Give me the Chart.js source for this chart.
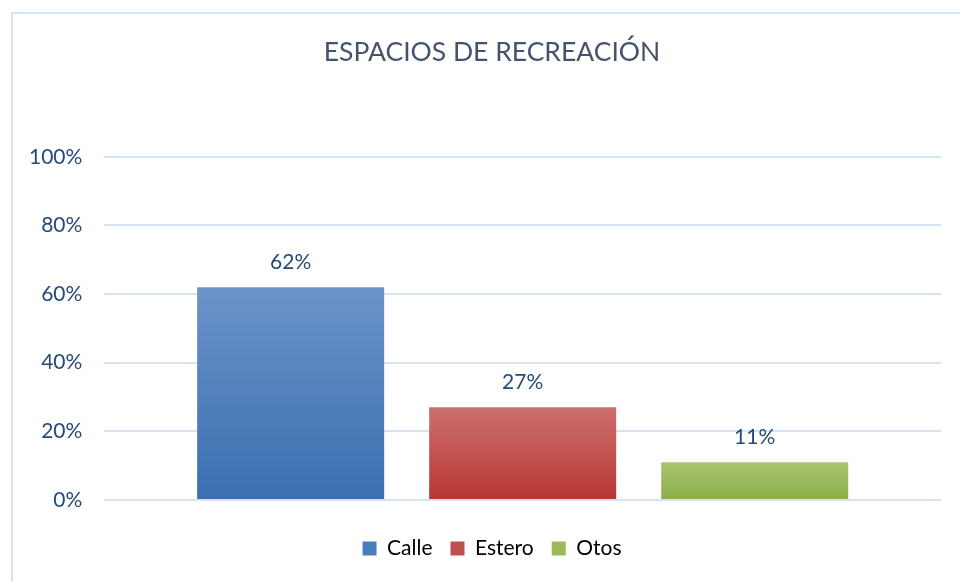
<!DOCTYPE html>
<html>
<head>
<meta charset="utf-8">
<script src="https://cdn.jsdelivr.net/npm/chart.js@4"></script>
<style>
  html, body { margin: 0; padding: 0; background: #fff; overflow: hidden; }
  #wrap { position: absolute; left: 11px; top: 12px; width: 968px; height: 585px; border: 2px solid #d6e3f4; box-sizing: border-box; }
</style>
</head>
<body>
<div id="wrap"><canvas id="recreacionChart"></canvas></div>
<script>
const categories = [''];
const seriesNames = ['Calle', 'Estero', 'Otos'];
const seriesValues = [[62], [27], [11]];
const yTicks = [0, 20, 40, 60, 80, 100];

const gradStops = [
  ['#6b93c9', '#3a6fb0'],
  ['#cc706e', '#b83633'],
  ['#a9c571', '#8cae48']
];
const solid = ['#4a7ebb', '#c0504d', '#9bbb59'];

function barGradient(i) {
  return function (context) {
    const chart = context.chart;
    if (!chart.chartArea || !chart.scales.y) return solid[i];
    const y = chart.scales.y;
    const top = y.getPixelForValue(seriesValues[i][0]);
    const bottom = y.getPixelForValue(0);
    if (!isFinite(top) || top === bottom) return solid[i];
    const g = chart.ctx.createLinearGradient(0, top, 0, bottom);
    g.addColorStop(0, gradStops[i][0]);
    g.addColorStop(1, gradStops[i][1]);
    return g;
  };
}

const valueLabels = {
  id: 'valueLabels',
  afterDatasetsDraw(chart) {
    const ctx = chart.ctx;
    ctx.save();
    ctx.font = '21px Lato';
    ctx.fillStyle = '#264a7a';
    ctx.textAlign = 'center';
    ctx.textBaseline = 'middle';
    chart.data.datasets.forEach((ds, i) => {
      const bar = chart.getDatasetMeta(i).data[0];
      ctx.fillText(ds.data[0] + '%', bar.x, bar.y - 25);
    });
    ctx.restore();
  }
};

const ctx = document.getElementById('recreacionChart').getContext('2d');
const recreacionChart = new Chart(ctx, {
  type: 'bar',
  data: {
    labels: categories,
    datasets: seriesNames.map((name, i) => ({
      label: name,
      data: seriesValues[i],
      backgroundColor: barGradient(i),
      categoryPercentage: 0.832,
      barPercentage: 0.806
    }))
  },
  options: {
    responsive: true,
    maintainAspectRatio: false,
    animation: false,
    layout: {
      padding: { left: -6, right: 0, top: 0, bottom: 26 }
    },
    plugins: {
      title: {
        display: true,
        text: 'ESPACIOS DE RECREACIÓN',
        color: '#44546a',
        font: { family: 'Lato', size: 26.5, weight: 'normal' },
        padding: { top: 23, bottom: 88 }
      },
      legend: {
        position: 'bottom',
        labels: {
          color: '#264a7a',
          font: { family: 'Lato', size: 21 },
          boxWidth: 14,
          boxHeight: 14,
          padding: 18,
          generateLabels(chart) {
            return chart.data.datasets.map((ds, i) => ({
              text: ds.label,
              fillStyle: solid[i],
              strokeStyle: solid[i],
              lineWidth: 0,
              datasetIndex: i
            }));
          }
        }
      },
      tooltip: { enabled: false }
    },
    scales: {
      x: {
        display: true,
        ticks: { display: false },
        grid: { display: false },
        border: { display: false },
        afterFit(scale) { scale.height = 20; }
      },
      y: {
        min: 0,
        max: 100,
        afterBuildTicks(scale) {
          scale.ticks = yTicks.map(v => ({ value: v }));
        },
        ticks: {
          color: '#264a7a',
          font: { family: 'Lato', size: 21 },
          padding: 22,
          callback: v => v + '%'
        },
        grid: { color: '#d6e3f4', lineWidth: 2, drawTicks: false },
        border: { display: false }
      },
      yRight: {
        position: 'right',
        display: true,
        ticks: { display: false },
        grid: { display: false },
        border: { display: false },
        afterFit(scale) { scale.width = 36; }
      }
    }
  },
  plugins: [valueLabels]
});
</script>
</body>
</html>
